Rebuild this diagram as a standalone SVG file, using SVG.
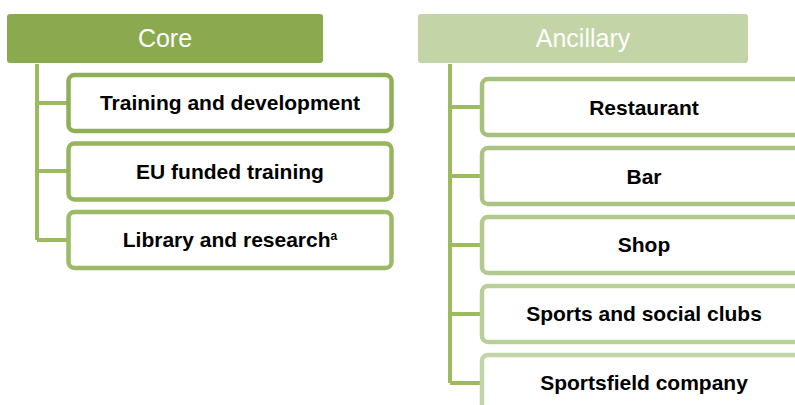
<svg xmlns="http://www.w3.org/2000/svg" width="795" height="405" viewBox="0 0 795 405">
  <style>
    .hdr { font-family: "Liberation Sans", Arial, sans-serif; font-size: 25px; fill: #ffffff; text-anchor: middle; }
    .lbl { font-family: "Liberation Sans", Arial, sans-serif; font-size: 21px; font-weight: bold; fill: #000000; text-anchor: middle; }
    .box { fill: #ffffff; stroke-width: 4.5; }
    .conn { stroke: #9CBB5E; stroke-width: 4; fill: none; }
  </style>
  <rect width="795" height="405" fill="#ffffff"/>

  <!-- connectors -->
  <g id="connectors">
    <path class="conn" d="M37 64 V240 M37 103 H68 M37 171 H68 M37 240 H68"/>
    <path class="conn" d="M450 64 V383 M450 107 H482 M450 176 H482 M450 245 H482 M450 314 H482 M450 383 H482"/>
  </g>

  <!-- Core column -->
  <g id="core">
    <rect x="7" y="14" width="316" height="49" rx="3" fill="#8BAA50"/>
    <text class="hdr" x="165" y="47">Core</text>
  </g>
  <g id="training">
    <rect class="box" x="68.5" y="75" width="323" height="56" rx="6" stroke="#8FAF55"/>
    <text class="lbl" x="230" y="110">Training and development</text>
  </g>
  <g id="eu-training">
    <rect class="box" x="68.5" y="143.5" width="323" height="56" rx="6" stroke="#96B55E"/>
    <text class="lbl" x="230" y="179">EU funded training</text>
  </g>
  <g id="library">
    <rect class="box" x="68.5" y="212" width="323" height="56" rx="6" stroke="#9DBB66"/>
    <text class="lbl" x="230" y="247">Library and research<tspan font-size="12" dy="-7">a</tspan></text>
  </g>

  <!-- Ancillary column -->
  <g id="ancillary">
    <rect x="418" y="14" width="330" height="49" rx="3" fill="#C3D4A6"/>
    <text class="hdr" x="583" y="47">Ancillary</text>
  </g>
  <g id="restaurant">
    <rect class="box" x="482" y="79" width="330" height="56" rx="6" stroke="#A5C17B"/>
    <text class="lbl" x="644" y="115">Restaurant</text>
  </g>
  <g id="bar">
    <rect class="box" x="482" y="148" width="330" height="56" rx="6" stroke="#ABC483"/>
    <text class="lbl" x="644" y="184">Bar</text>
  </g>
  <g id="shop">
    <rect class="box" x="482" y="217" width="330" height="56" rx="6" stroke="#B1C98C"/>
    <text class="lbl" x="644" y="252">Shop</text>
  </g>
  <g id="sports-clubs">
    <rect class="box" x="482" y="286" width="330" height="56" rx="6" stroke="#B9CF98"/>
    <text class="lbl" x="644" y="321">Sports and social clubs</text>
  </g>
  <g id="sportsfield">
    <rect class="box" x="482" y="355" width="330" height="56" rx="6" stroke="#C2D5A6"/>
    <text class="lbl" x="644" y="390">Sportsfield company</text>
  </g>
</svg>
